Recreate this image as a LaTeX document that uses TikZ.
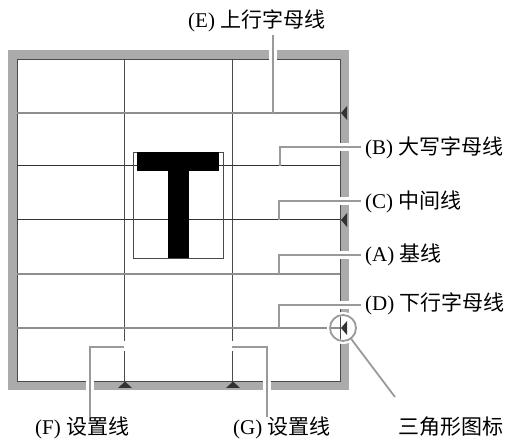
\documentclass[tikz,border=0pt]{standalone}
\usepackage{fontspec}
\setmainfont{Liberation Serif}
\newfontfamily\cjk[Scale=1.0]{Noto Sans CJK SC}
\definecolor{bordergray}{HTML}{ABABAB}
\definecolor{leadgray}{HTML}{9A9A9A}
\definecolor{darkline}{HTML}{333333}
\definecolor{midline}{HTML}{8E8E8E}
\definecolor{gridv}{HTML}{4A4A4A}
\begin{document}
\begin{tikzpicture}[x=1pt,y=-1pt,
  lbl/.style={anchor=base west,inner sep=0pt,font=\fontsize{21}{25}\selectfont},
  leader/.style={draw=leadgray,line width=1.8pt},
  halo/.style={draw=white,line width=8pt},
  darkh/.style={draw=darkline,line width=1pt},
  midh/.style={draw=midline,line width=1.3pt},
  gv/.style={draw=gridv,line width=0.9pt},
  tri/.style={fill=darkline,draw=none}]
\useasboundingbox (0,0) rectangle (507,441);

% thick frame
\draw[bordergray,line width=9pt] (12.5,54.5) rectangle (344.5,385.5);
% inner frame line
\draw[gridv,line width=0.8pt] (17,59) rectangle (340,381);

% grid
\draw[gv] (124,59) -- (124,381);
\draw[gv] (232,59) -- (232,381);
\draw[midh] (17,113) -- (340,113);
\draw[darkh] (17,166) -- (340,166);
\draw[darkh] (17,220) -- (340,220);
\draw[midh] (17,274) -- (340,274);
\draw[midh] (17,328) -- (340,328);

% letter T
\draw[gridv,line width=0.8pt] (133,152) rectangle (223,258);
\fill[black] (137,152) rectangle (219,171);
\fill[black] (168,171) rectangle (189,258);

% triangles
\fill[tri] (341,113) -- (347,106) -- (347,120) -- cycle;
\fill[tri] (341,220) -- (347,213) -- (347,227) -- cycle;
\fill[tri] (125,381.5) -- (118,388) -- (132,388) -- cycle;
\fill[tri] (233,381.5) -- (226,388) -- (240,388) -- cycle;

% labels
\node[lbl] (lE) at (188,28) {(E) {\cjk 上行字母线}};
\node[lbl] (lB) at (365,155) {(B) {\cjk 大写字母线}};
\node[lbl] (lC) at (365,209) {(C) {\cjk 中间线}};
\node[lbl] (lA) at (365,262) {(A) {\cjk 基线}};
\node[lbl] (lD) at (365,311) {(D) {\cjk 下行字母线}};
\node[lbl] (lF) at (35,435) {(F) {\cjk 设置线}};
\node[lbl] (lG) at (233,435) {(G) {\cjk 设置线}};
\node[lbl] (lT) at (398,435) {{\cjk 三角形图标}};

% leader coordinates
\coordinate (sE) at (273,113);  \coordinate (eE) at (273,35);
\coordinate (sB) at (280,166);  \coordinate (eB) at (361,147);
\coordinate (sC) at (279,220);  \coordinate (eC) at (361,201);
\coordinate (sA) at (279,274);  \coordinate (eA) at (361,255);
\coordinate (sD) at (279,328);  \coordinate (eD) at (361,305);
\coordinate (sF) at (124,347);  \coordinate (eF) at (90,417);
\coordinate (sG) at (232,347);  \coordinate (eG) at (267,417);
\coordinate (cc) at (343,328);
\coordinate (sT) at (350.8,338.4); \coordinate (eT) at (395,397);

% halos
\draw[halo] (273,108) -- (eE);
\draw[halo] (280,147) -- (eB);
\draw[halo] (279,201) -- (eC);
\draw[halo] (279,255) -- (eA);
\draw[halo] (279,305) -- (eD);
\draw[halo] (126,347) -| (eF);
\draw[halo] (230,347) -| (eG);
\fill[white] (122,341) rectangle (126,345.5);
\fill[white] (230,341) rectangle (234,345.5);
\draw[halo] (sT) -- (eT);

% circle around triangle icon
\fill[white] (cc) circle (16);
\begin{scope}
  \clip (cc) circle (12);
  \draw[midh] (17,328) -- (340,328);
  \draw[gridv,line width=0.8pt] (340,300) -- (340,360);
\end{scope}
\fill[tri] (341,328) -- (347,321) -- (347,335) -- cycle;
\draw[leader] (cc) circle (13);

% leaders
\draw[leader] (sE) -- (eE);
\draw[leader] (sB) |- (eB);
\draw[leader] (sC) |- (eC);
\draw[leader] (sA) |- (eA);
\draw[leader] (sD) |- (eD);
\draw[leader] (sF) -| (eF);
\draw[leader] (sG) -| (eG);
\draw[leader] (sT) -- (eT);
\end{tikzpicture}
\end{document}
